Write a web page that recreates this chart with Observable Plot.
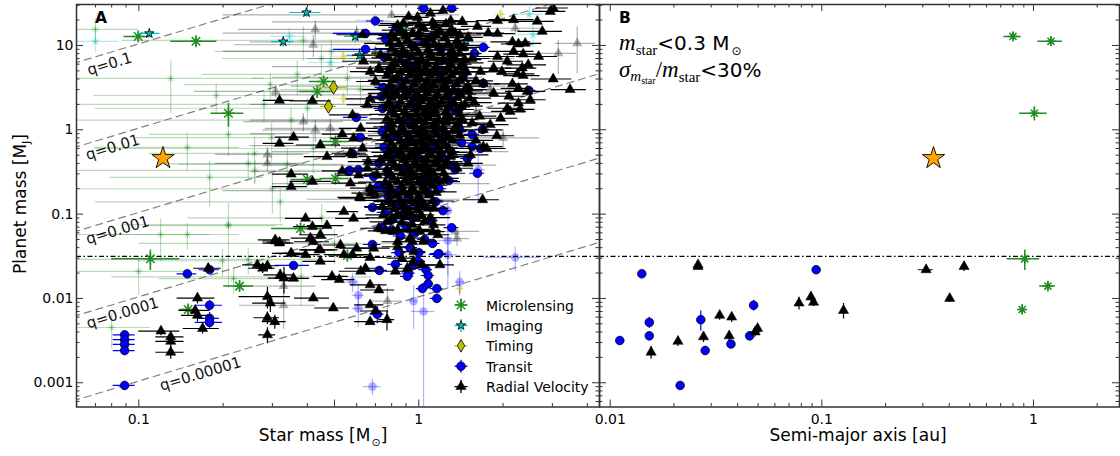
<!DOCTYPE html>
<html><head><meta charset="utf-8">
<script src="https://cdn.jsdelivr.net/npm/d3@7"></script>
<script src="https://cdn.jsdelivr.net/npm/@observablehq/plot@0.6"></script>
<style>
body{margin:0;background:#fff;}
#wrap{position:relative;width:1120px;height:456px;overflow:hidden;background:#fff;}
#wrap > div.panel{position:absolute;top:0;}
</style></head><body><div id="wrap"></div>
<script>
// ---------------- constants / labels ----------------
const MJ_PER_MSUN = 1047.6;
const TEN_EARTH_MJ = 0.0315;
const qValues = [0.1, 0.01, 0.001, 0.0001, 0.00001];
const qLabels = ["q=0.1", "q=0.01", "q=0.001", "q=0.0001", "q=0.00001"];
const qLabelStarMass = [0.0786, 0.0806, 0.084, 0.0875, 0.166];

const yTickValues = [0.001, 0.01, 0.1, 1, 10];
const yTickLabels = ["0.001", "0.01", "0.1", "1", "10"];
const xTickValuesA = [0.1, 0.5, 1];
const xTickLabelsA = ["0.1", "0.5", "1"];
const xMinorA = [0.06, 0.07, 0.08, 0.09, 0.2, 0.3, 0.4, 0.6, 0.7, 0.8, 0.9, 2, 3, 4];
const xTickValuesB = [0.01, 0.1, 1];
const xTickLabelsB = ["0.01", "0.1", "1"];
const xMinorB = [0.02, 0.03, 0.04, 0.05, 0.06, 0.07, 0.08, 0.09, 0.2, 0.3, 0.4, 0.5, 0.6, 0.7, 0.8, 0.9, 2];
const legendNames = ["Microlensing", "Imaging", "Timing", "Transit", "Radial Velocity"];

// ---------------- data: [x, xerr, planet mass MJ, planet-mass err] ----------------
// faded (not selected) samples
const fadedML = [[0.070,0.03,15.5,5],[0.130,0.15,4.06,2.5],[0.189,0.12,2.55,1],[0.209,0.1,0.88,0.4],[0.149,0.08,0.617,0.3],[0.179,0.1,0.272,0.15],[0.295,0.15,3.44,1.2],[0.368,0.2,4.53,2],[0.259,0.15,0.524,0.3],[0.246,0.12,0.398,0.15],[0.339,0.2,0.388,0.2],[0.209,0.1,0.073,0.06],[0.1196,0.06,0.0573,0.03],[0.149,0.08,0.0573,0.02],[0.209,0.12,0.075,0.01],[0.0998,0.05,0.0209,0.01],[0.218,0.1,0.0172,0.006],[0.080,0.03,0.00452,0.002],[0.246,0.2,0.029,0.01],[0.199,0.1,0.028,0.01],[0.298,0.2,0.809,0.4],[0.387,0.3,11.5,5],[0.449,0.25,7.0,3],[0.487,0.3,8.5,3],[0.556,0.3,4.06,1.5],[0.619,0.3,3.0,1],[0.73,0.3,3.1,1],[0.35,0.3,1.3,0.5],[0.42,0.35,0.6,0.3],[0.3,0.25,0.2,0.1],[0.45,0.3,0.09,0.04],[0.5,0.4,0.045,0.02],[0.28,0.22,2.0,0.8],[0.32,0.25,0.14,0.06],[0.4,0.33,1.8,0.6],[0.26,0.2,0.33,0.1],[0.38,0.3,0.018,0.01]];
const fadedIM = [[0.070,0.015,11.2,3],[0.695,0.1,19.8,4],[2.48,0.3,23.4,5],[2.56,0.3,13.5,4],[0.345,0.05,12.8,3],[0.483,0.08,6.28,1.5]];
const fadedTI = [[1.96,0.1,23.4,3],[0.538,0.05,7.4,1],[0.695,0.05,7.8,1],[0.538,0.05,2.35,0.4],[1.4,0.05,0.0131,0.002]];
const fadedTR = [[1.27,0.05,0.11,0.03],[1.27,0.1,0.0487,0.03],[1.27,0.1,0.033,0.02],[2.21,0.5,0.0307,0.01],[1.63,0.1,0.336,0.2],[1.4,0.05,0.0157,0.005],[0.958,0.03,0.0093,0.005],[1.04,0.1,0.007,0.008],[0.683,0.05,0.0009,0.0002],[0.608,0.03,0.0109,0.004],[0.608,0.03,0.0076,0.003],[0.58,0.03,0.0157,0.004]];
const fadedRV = [[0.308,0.15,2.85,0.5],[0.288,0.1,0.51,0.1],[0.288,0.1,0.40,0.08],[0.427,0.2,15.5,4],[0.42,0.2,10.2,3],[0.387,0.15,1.25,0.3],[0.427,0.15,1.0,0.3],[0.483,0.2,1.04,0.3],[3.68,0.6,10.6,6],[3.15,0.5,8.05,3.5],[2.21,0.5,16,3],[0.329,0.1,0.014,0.003],[0.329,0.1,0.0083,0.004],[0.773,0.1,0.0093,0.004],[1.37,0.15,0.0513,0.01],[1.35,0.3,0.0623,0.01],[0.9,0.6,19,2],[1.0,0.7,4.2,1],[0.8,0.5,5.6,1],[1.1,0.8,2.6,0.5],[0.95,0.7,1.3,0.3],[0.85,0.6,0.9,0.2],[1.2,0.9,0.55,0.1],[0.7,0.45,0.32,0.05],[1.05,0.75,0.23,0.05],[0.6,0.4,14,3],[1.3,0.9,7,1],[0.9,0.5,0.15,0.03],[0.75,0.5,2.0,0.4],[1.6,0.6,1.6,0.3],[2.0,0.7,0.8,0.2],[1.8,0.5,3,0.5],[0.8,0.6,23,2],[1.0,0.75,11,2],[0.7,0.5,8.5,1],[1.2,0.85,3.3,0.5],[0.9,0.65,0.65,0.1],[1.1,0.8,0.38,0.05],[0.65,0.45,0.19,0.03]];

// selected samples, panel A (x = star mass)
const mlA = [[0.0995,0.011,12.8,1.5],[0.16,0.03,11.2,1.5],[0.209,0.028,1.57,0.5],[0.11,0.03,0.0295,0.008],[0.229,0.028,0.014,0.002],[0.15,0.01,0.0074,0.001],[0.457,0.05,3.74,0.5],[0.434,0.06,2.85,0.5],[0.875,0.1,13.5,2],[0.846,0.08,4.92,0.8],[0.504,0.06,0.727,0.1],[0.504,0.06,0.264,0.04],[0.40,0.05,0.257,0.04],[0.378,0.08,0.0675,0.01],[0.556,0.08,0.0323,0.005]];
const imA = [[0.109,0.01,13.9,1.5],[0.328,0.03,11.1,1.5],[0.397,0.05,24.6,3],[0.593,0.05,12.8,2],[0.614,0.06,7.63,1.5],[0.881,0.06,16,2],[0.84,0.06,7.8,1.5],[1.47,0.1,11.2,1.5],[0.95,0.08,7.5,1]];
const tiA = [[0.496,0.06,3.18,0.45],[0.476,0.03,1.89,0.3]];
const trLowA = [[0.089,0.008,0.0037,0.0003],[0.089,0.008,0.00324,0.0003],[0.089,0.008,0.00285,0.0003],[0.089,0.008,0.00241,0.0003],[0.089,0.008,0.00093,0.0001],[0.149,0.012,0.0196,0.0015],[0.179,0.015,0.0219,0.002],[0.179,0.02,0.0083,0.0012],[0.179,0.015,0.0058,0.001],[0.179,0.02,0.0052,0.0008]];
const trEdgeA = [[1.04,0.05,27.6],[1.31,0.08,27.6],[0.645,0.15,13.9],[0.645,0.15,9.0],[0.754,0.05,7.2],[0.832,0.05,16.4],[0.747,0.05,3.18],[0.735,0.05,2.48],[0.598,0.06,1.40],[0.742,0.05,1.79],[0.619,0.04,0.81],[0.608,0.05,0.336],[0.56,0.04,0.32],[0.723,0.05,0.219],[0.766,0.05,0.196],[0.683,0.04,0.120],[0.839,0.05,0.131],[0.91,0.05,0.113],[1.69,0.1,1.01],[1.70,0.1,9.5],[1.58,0.1,8.05],[1.62,0.1,0.305],[1.55,0.1,0.88],[1.55,0.1,0.634],[1.66,0.1,0.6],[1.49,0.08,0.457],[1.35,0.08,0.336],[1.31,0.08,0.069],[2.47,0.15,2.93],[1.70,0.1,3.55],[0.717,0.05,0.212],[0.579,0.04,0.524],[0.566,0.05,0.33],[0.683,0.05,0.0436],[0.723,0.05,0.0215],[0.711,0.04,0.0065,0.0015],[0.825,0.05,0.0254],[0.957,0.05,0.0246],[1.08,0.06,0.0187],[1.03,0.05,0.0131],[1.08,0.05,0.0149],[1.16,0.06,0.0131],[1.16,0.06,0.0100],[1.18,0.08,0.034],[0.357,0.05,0.0246],[0.91,0.05,0.0183],[1.17,0.08,0.0333],[0.76,0.05,12.0],[0.7,0.05,19.5],[0.79,0.05,5.2],[0.74,0.05,0.95],[0.75,0.05,0.62],[0.72,0.05,0.4],[0.69,0.05,0.28],[0.78,0.05,0.16],[0.76,0.05,0.105],[0.8,0.05,0.085],[0.74,0.05,0.07]];
const trCoreA = [[0.82,0.05,0.85],[0.9,0.06,0.7],[0.98,0.05,0.5],[1.05,0.06,0.42],[1.12,0.08,0.6],[0.88,0.05,0.35],[0.95,0.05,0.28],[1.02,0.06,0.24],[1.1,0.07,0.3],[0.86,0.05,0.5],[1.0,0.06,0.9],[0.93,0.05,1.2],[1.08,0.07,1.5],[0.97,0.06,2.0],[0.9,0.05,2.6],[1.15,0.08,1.1],[1.2,0.08,0.75],[1.22,0.08,0.45],[1.3,0.1,0.55],[1.25,0.1,1.3],[1.35,0.1,1.7],[1.28,0.1,2.4],[1.4,0.1,1.0],[1.1,0.08,3.2],[1.0,0.06,4.5],[0.92,0.06,6.0],[1.18,0.08,5.0],[1.3,0.1,6.5],[1.2,0.1,9.0],[1.05,0.08,11],[0.85,0.05,0.19],[0.92,0.05,0.15],[1.0,0.06,0.12],[1.08,0.07,0.18],[0.8,0.05,0.065],[0.86,0.05,0.055],[0.9,0.05,0.072],[0.97,0.06,0.06],[1.05,0.06,0.05],[1.1,0.07,0.085],[0.95,0.05,0.09],[0.88,0.05,0.1],[0.78,0.05,0.3],[0.8,0.05,0.55],[0.78,0.05,1.1],[0.8,0.05,1.9],[0.82,0.05,3.0],[0.85,0.05,4.0],[0.88,0.06,8.0],[0.95,0.06,10],[1.12,0.08,13],[1.25,0.1,3.8],[1.38,0.1,2.8],[1.45,0.1,4.6],[1.42,0.1,0.7],[1.33,0.1,0.38],[1.28,0.1,0.25],[1.18,0.08,0.2],[1.15,0.08,0.14],[1.22,0.08,0.11],[1.0,0.06,0.035],[0.93,0.06,0.04],[1.12,0.07,0.045],[0.85,0.05,0.035],[0.99,0.06,0.028],[1.06,0.06,0.022],[0.92,0.05,0.02]];
const rvLowA = [[0.177,0.02,0.0228,0.002],[0.162,0.025,0.0101,0.0015],[0.159,0.02,0.0072,0.001],[0.162,0.02,0.0063,0.001],[0.169,0.025,0.0044,0.0006],[0.12,0.02,0.0041,0.0005],[0.13,0.015,0.0035,0.0005],[0.13,0.015,0.0031,0.0005],[0.13,0.015,0.0023,0.0004],[0.265,0.03,0.025,0.003],[0.288,0.03,0.0244,0.003],[0.277,0.03,0.0228,0.003],[0.307,0.03,0.048,0.005],[0.318,0.03,0.0464,0.005],[0.35,0.04,0.0343,0.004],[0.32,0.04,0.019,0.003],[0.33,0.04,0.0174,0.006],[0.288,0.06,0.0105,0.003],[0.295,0.04,0.0088,0.002],[0.288,0.03,0.0059,0.001],[0.306,0.03,0.0053,0.001],[0.288,0.02,0.0037,0.0008]];
const rvEdgeA = [[0.318,0.04,2.23],[0.318,0.04,0.69],[0.357,0.05,0.817],[0.35,0.05,0.298],[0.35,0.05,0.212],[0.417,0.07,2.2],[0.445,0.08,0.66],[0.47,0.08,0.48],[0.417,0.07,0.244],[0.57,0.08,0.527],[0.57,0.08,0.233],[0.54,0.07,0.107],[0.394,0.06,0.089],[0.417,0.06,0.071],[0.41,0.06,0.052],[0.307,0.04,0.0495],[0.318,0.04,0.0454],[0.35,0.05,0.0343],[0.394,0.05,0.033],[0.533,0.08,0.89],[0.58,0.1,1.5],[0.67,0.1,4.9],[0.635,0.1,6.5],[0.63,0.12,13.4],[0.533,0.08,0.326],[0.614,0.1,0.158],[0.677,0.1,0.177],[0.445,0.07,0.0569],[0.47,0.07,0.073],[0.585,0.08,0.089],[0.445,0.07,0.0377],[0.54,0.08,0.033],[0.747,0.1,0.098],[0.81,0.1,0.062],[0.84,0.1,0.041],[0.93,0.1,0.052],[0.96,0.1,0.036],[0.67,0.1,0.0306],[1.04,0.12,0.0474],[1.13,0.12,0.117],[1.12,0.12,0.062],[1.19,0.15,0.025],[0.74,0.1,0.123],[0.655,0.1,0.35],[0.73,0.1,0.44],[0.71,0.1,0.29],[0.76,0.1,0.0634],[0.69,0.1,0.0394],[0.645,0.1,0.0228],[0.62,0.1,0.021],[0.67,0.1,0.0145],[0.72,0.1,0.0126],[0.67,0.08,0.0084],[0.70,0.08,0.0071],[0.67,0.08,0.0053],[0.77,0.05,0.0056,0.0015],[0.825,0.1,0.021],[0.87,0.1,0.030],[0.91,0.1,0.0228],[0.957,0.1,0.0275],[1.03,0.12,0.0249],[0.84,0.1,0.047],[0.95,0.1,0.047],[1.01,0.12,0.0622],[1.13,0.12,0.0746],[1.17,0.12,0.0569],[0.60,0.08,0.0394],[0.58,0.08,0.033],[0.42,0.06,0.047],[0.445,0.06,0.0275],[0.49,0.07,0.0183],[0.52,0.07,0.0167],[0.42,0.06,0.0101],[0.495,0.07,0.0077],[0.357,0.05,0.0173],[0.44,0.06,0.0377],[0.525,0.07,0.043],[1.69,0.25,0.148],[1.37,0.2,0.35],[1.245,0.15,0.266],[1.7,0.3,0.63],[1.53,0.25,0.505],
[0.99,0.1,21.5],[1.14,0.12,17.3],[1.30,0.15,19.7],[1.43,0.2,19.2],[1.62,0.2,16.8],[1.91,0.3,19.7],[2.18,0.4,20.2],[2.65,0.4,19.3],[3.02,0.4,27.8],[2.95,0.4,25.3],[2.76,0.5,14.7],[1.77,0.25,14.0],[1.91,0.3,13.8],[2.16,0.35,11.0],[2.27,0.3,10.4],[2.40,0.35,10.6],[2.18,0.4,8.5],[2.36,0.35,7.9],[2.46,0.4,5.9],[2.34,0.3,5.4],[2.36,0.35,4.4],[2.27,0.3,3.1],[3.02,0.5,4.0],[3.47,0.5,3.0],[2.12,0.3,1.65],[1.96,0.3,1.37],[2.27,0.35,2.07],[2.44,0.4,2.85],[2.07,0.3,6.5],[1.91,0.3,7.4],[1.66,0.25,4.9],[0.84,0.12,17.3],[0.79,0.15,10.6],[0.73,0.15,7.7],[0.72,0.12,5.4],[0.70,0.1,3.74],[0.67,0.12,2.33],[0.655,0.1,1.98],[0.62,0.1,1.04],[0.585,0.1,0.79],[0.63,0.1,0.605],[0.58,0.08,0.505],[0.66,0.1,0.42],[0.61,0.1,0.29],[0.67,0.1,0.203],[0.62,0.1,0.155],[0.70,0.1,0.169],[0.79,0.1,0.141],[0.72,0.1,0.068],[0.77,0.1,0.081],
[2.68,0.45,7.4],[2.5,0.35,2.27],[2.1,0.3,2.5],[2.3,0.3,1.75],[1.85,0.3,5.4],[1.98,0.3,4.9],[2.25,0.35,4.6],[2.16,0.3,3.5],[1.85,0.3,2.72],[1.70,0.25,3.5],[2.07,0.3,1.8],[1.55,0.25,1.2],[1.7,0.3,1.0],[1.6,0.25,0.75],[1.75,0.3,0.6],[1.5,0.2,0.4],[1.9,0.3,0.85],[1.8,0.3,1.15],[1.65,0.25,1.45],[1.58,0.25,2.1],[1.5,0.2,2.9],[1.6,0.25,3.8],[1.45,0.2,5.5],[1.55,0.25,7.0],[1.45,0.2,9.5],[1.5,0.2,12.5],[1.35,0.2,14],[0.92,0.1,22],[1.1,0.12,24],[1.22,0.15,26]];
const rvCoreA = [[0.86,0.12,15.2],[0.95,0.1,14.1],[1.04,0.12,16.0],[1.19,0.15,14.8],[1.31,0.2,15.5],
[0.82,0.1,12.2],[0.91,0.12,11.6],[1.0,0.1,12.7],[1.1,0.15,11.9],[1.24,0.18,12.4],[1.37,0.2,11.4],
[0.8,0.1,9.2],[0.88,0.1,8.7],[0.97,0.12,9.4],[1.08,0.15,8.9],[1.18,0.15,9.6],[1.31,0.2,8.8],[1.42,0.2,9.3],
[0.78,0.1,7.1],[0.86,0.1,6.8],[0.94,0.12,7.3],[1.02,0.12,6.9],[1.12,0.15,7.2],[1.22,0.15,6.7],[1.35,0.2,7.0],[1.46,0.22,6.8],
[0.8,0.1,5.6],[0.9,0.1,5.3],[0.99,0.12,5.7],[1.06,0.12,5.2],[1.15,0.15,5.6],[1.27,0.18,5.4],[1.4,0.2,5.5],
[0.77,0.1,4.4],[0.84,0.1,4.2],[0.93,0.1,4.5],[1.01,0.12,4.1],[1.1,0.15,4.4],[1.2,0.15,4.2],[1.31,0.18,4.5],[1.44,0.2,4.1],
[0.79,0.1,3.4],[0.88,0.1,3.3],[0.96,0.12,3.5],[1.04,0.12,3.2],[1.13,0.15,3.4],[1.24,0.18,3.3],[1.36,0.2,3.5],[1.5,0.22,3.3],
[0.76,0.1,2.7],[0.83,0.1,2.6],[0.91,0.12,2.8],[0.99,0.12,2.6],[1.07,0.12,2.75],[1.17,0.15,2.6],[1.28,0.18,2.8],[1.41,0.2,2.65],
[0.78,0.1,2.1],[0.86,0.1,2.15],[0.94,0.1,2.05],[1.02,0.12,2.2],[1.1,0.15,2.05],[1.21,0.15,2.15],[1.33,0.2,2.1],[1.46,0.2,2.0],
[0.8,0.1,1.7],[0.89,0.1,1.65],[0.97,0.12,1.75],[1.05,0.12,1.68],[1.14,0.15,1.72],[1.25,0.18,1.66],[1.38,0.2,1.74],
[0.77,0.1,1.35],[0.85,0.1,1.32],[0.93,0.1,1.38],[1.0,0.12,1.34],[1.08,0.12,1.37],[1.18,0.15,1.31],[1.3,0.18,1.36],[1.43,0.2,1.33],
[0.79,0.1,1.08],[0.87,0.1,1.05],[0.95,0.12,1.1],[1.03,0.12,1.06],[1.12,0.15,1.09],[1.22,0.15,1.04],[1.35,0.2,1.08],
[0.76,0.1,0.85],[0.84,0.1,0.87],[0.92,0.1,0.83],[1.0,0.12,0.86],[1.07,0.12,0.84],[1.16,0.15,0.87],[1.27,0.18,0.84],[1.4,0.2,0.86],
[0.8,0.1,0.68],[0.88,0.1,0.66],[0.96,0.12,0.69],[1.04,0.12,0.67],[1.13,0.15,0.7],[1.24,0.18,0.66],
[0.78,0.1,0.54],[0.86,0.1,0.55],[0.94,0.1,0.53],[1.02,0.12,0.56],[1.1,0.15,0.53],[1.2,0.15,0.55],[1.32,0.18,0.54],
[0.8,0.1,0.43],[0.89,0.1,0.44],[0.97,0.12,0.42],[1.06,0.12,0.44],[1.15,0.15,0.43],[1.26,0.18,0.42],
[0.77,0.1,0.34],[0.85,0.1,0.35],[0.93,0.1,0.33],[1.01,0.12,0.345],[1.09,0.12,0.335],[1.19,0.15,0.35],
[0.81,0.1,0.27],[0.9,0.1,0.265],[0.98,0.12,0.275],[1.07,0.12,0.27],[1.16,0.15,0.26],
[0.79,0.1,0.21],[0.87,0.1,0.215],[0.95,0.1,0.205],[1.04,0.12,0.21],[1.12,0.15,0.22],
[0.83,0.1,0.165],[0.92,0.1,0.17],[1.0,0.12,0.16],[1.09,0.12,0.168],
[0.8,0.1,0.13],[0.88,0.1,0.128],[0.97,0.12,0.133],[1.05,0.12,0.127],
[0.84,0.1,0.1],[0.93,0.1,0.104],[1.02,0.12,0.098],
[0.87,0.1,0.08],[0.95,0.1,0.075],[1.05,0.12,0.083]];
const rvCore2A = [[0.88,0.15,18.2],[1.0,0.2,17.6],[1.12,0.2,18.8],[1.25,0.25,17.9],
[0.8,0.15,13.6],[0.9,0.18,13.2],[1.0,0.2,13.9],[1.15,0.22,13.4],[1.28,0.25,13.8],[1.4,0.28,13.3],
[0.85,0.15,10.4],[0.94,0.18,10.1],[1.05,0.2,10.6],[1.14,0.22,10.2],[1.27,0.25,10.5],[1.38,0.28,10.0],
[0.83,0.15,8.1],[0.91,0.18,7.8],[1.0,0.2,8.2],[1.1,0.22,7.9],[1.2,0.24,8.1],[1.3,0.25,7.8],[1.4,0.28,8.0],
[0.82,0.15,6.2],[0.9,0.18,6.0],[0.98,0.2,6.3],[1.07,0.2,6.1],[1.17,0.22,6.3],[1.3,0.25,6.0],[1.43,0.28,6.2],
[0.78,0.15,4.9],[0.86,0.15,4.8],[0.95,0.18,5.0],[1.04,0.2,4.85],[1.13,0.22,4.95],[1.23,0.24,4.8],[1.35,0.25,4.9],[1.48,0.3,4.85],
[0.81,0.15,3.85],[0.9,0.18,3.8],[0.98,0.2,3.9],[1.07,0.2,3.75],[1.17,0.22,3.9],[1.28,0.25,3.8],[1.4,0.28,3.85],
[0.78,0.15,3.0],[0.86,0.15,3.05],[0.94,0.18,2.95],[1.02,0.2,3.02],[1.11,0.22,2.98],[1.21,0.24,3.04],[1.33,0.25,2.96],[1.46,0.3,3.0],
[0.8,0.15,2.4],[0.88,0.15,2.45],[0.96,0.18,2.38],[1.05,0.2,2.42],[1.14,0.22,2.36],[1.25,0.24,2.44],[1.37,0.26,2.4],[1.52,0.3,2.37],
[0.77,0.15,1.9],[0.84,0.15,1.88],[0.92,0.18,1.92],[1.0,0.2,1.9],[1.08,0.2,1.87],[1.17,0.22,1.93],[1.28,0.25,1.89],[1.42,0.28,1.91],
[0.82,0.15,1.52],[0.9,0.18,1.5],[0.98,0.2,1.54],[1.06,0.2,1.51],[1.15,0.22,1.53],[1.26,0.24,1.5],[1.4,0.28,1.52],
[0.8,0.15,1.2],[0.88,0.15,1.22],[0.96,0.18,1.19],[1.05,0.2,1.21],[1.14,0.22,1.18],[1.25,0.24,1.22],[1.38,0.26,1.2],
[0.81,0.15,0.96],[0.89,0.18,0.95],[0.97,0.2,0.97],[1.05,0.2,0.94],[1.14,0.22,0.96],[1.24,0.24,0.95],[1.33,0.25,0.97],
[0.78,0.15,0.76],[0.86,0.15,0.75],[0.94,0.18,0.77],[1.02,0.2,0.76],[1.1,0.2,0.74],[1.2,0.22,0.77],[1.32,0.25,0.75],
[0.82,0.15,0.6],[0.9,0.18,0.61],[0.98,0.2,0.59],[1.07,0.2,0.6],[1.17,0.22,0.61],[1.28,0.25,0.6],
[0.76,0.15,0.48],[0.84,0.15,0.49],[0.92,0.18,0.47],[1.0,0.2,0.48],[1.08,0.2,0.49],[1.18,0.22,0.47],[1.3,0.25,0.48],
[0.82,0.15,0.38],[0.9,0.18,0.39],[0.98,0.2,0.38],[1.06,0.2,0.37],[1.15,0.22,0.39],[1.25,0.24,0.38],
[0.79,0.15,0.3],[0.87,0.15,0.305],[0.95,0.18,0.3],[1.04,0.2,0.295],[1.13,0.22,0.3],[1.23,0.24,0.305],
[0.76,0.15,0.24],[0.84,0.15,0.242],[0.92,0.18,0.238],[1.0,0.2,0.24],[1.09,0.2,0.236],[1.19,0.22,0.243],
[0.8,0.15,0.185],[0.88,0.15,0.188],[0.96,0.18,0.183],[1.05,0.2,0.186],[1.15,0.22,0.184],
[0.78,0.15,0.145],[0.86,0.15,0.147],[0.94,0.18,0.144],[1.02,0.2,0.146],[1.12,0.22,0.143],
[0.82,0.15,0.115],[0.9,0.18,0.116],[0.99,0.2,0.114],[1.08,0.2,0.117],
[0.8,0.15,0.09],[0.89,0.15,0.092],[0.98,0.18,0.089],[1.1,0.2,0.091],
[0.84,0.15,0.065],[0.92,0.18,0.066],[1.0,0.2,0.064]];
const targetA = [[0.122,0,0.46,0]];

// panel B (x = semi-major axis [au])
const mlB = [[0.80,0.075,12.8,1.5],[1.21,0.16,11.2,1.5],[1.01,0.15,1.57,0.3],[0.91,0.16,0.0295,0.008],[1.17,0.1,0.014,0.002],[0.885,0.03,0.0074,0.001]];
const trB = [[0.0111,0,0.00317,0.0003],[0.0141,0,0.0196,0.0015],[0.0153,0,0.0052,0.0008],[0.0153,0,0.0036,0.0004],[0.0214,0,0.00093,0.0001],[0.0268,0,0.0056,0.0015],[0.0281,0,0.00241,0.0003],[0.0372,0,0.00288,0.0003],[0.0476,0,0.0083,0.0012],[0.0456,0,0.0036,0.0003],[0.094,0,0.0219,0.002]];
const rvB = [[0.0156,0.0005,0.0023,0.0004],[0.0209,0.0005,0.0031,0.0004],[0.026,0.0005,0.0239,0.002],[0.026,0.0005,0.025,0.002],[0.0276,0.0005,0.0035,0.0005],[0.0329,0.0005,0.0063,0.0008],[0.0365,0.0005,0.0036,0.0005],[0.0375,0.0005,0.006,0.0008],[0.0484,0.003,0.004,0.0005],[0.0497,0.002,0.0044,0.0005],[0.078,0.001,0.0088,0.0015],[0.0888,0.001,0.0104,0.0012],[0.0914,0.001,0.009,0.001],[0.1266,0.002,0.0072,0.0015],[0.311,0.025,0.0219,0.002],[0.402,0.005,0.0100,0.001],[0.47,0.005,0.0239,0.003]];
const targetB = [[0.337,0,0.46,0]];

// ---------------- styling ----------------
const C = {ml: "#228b22", im: "#00bfbf", ti: "#bfbf00", tr: "#0000ff", rv: "#000000", star: "#ffa500"};
const FONT = '"DejaVu Sans", sans-serif';
const H = 456, MT = 4, MB = 49.5;
const yDomain = [0.000516, 30.6];
const xDomainA = [0.0599, 4.42];
const xDomainB = [0.0089, 2.55];
const WA = 600, MLA = 76, MRA = 1;
const WB = 521, MLB = 0, MRB = 1;
const innerH = H - MT - MB;

const symAst = {draw(ctx, size) {
  const r = Math.sqrt(size / Math.PI), s = r * Math.SQRT1_2;
  ctx.moveTo(-r, 0); ctx.lineTo(r, 0); ctx.moveTo(0, -r); ctx.lineTo(0, r);
  ctx.moveTo(-s, -s); ctx.lineTo(s, s); ctx.moveTo(-s, s); ctx.lineTo(s, -s);
}};
const symDiam = {draw(ctx, size) {
  const r = Math.sqrt(size / Math.PI);
  ctx.moveTo(0, -r * 1.25); ctx.lineTo(r * 0.75, 0); ctx.lineTo(0, r * 1.25); ctx.lineTo(-r * 0.75, 0); ctx.closePath();
}};

const X = d => d[0], DX = d => d[1] || 0, Y = d => d[2], DY = d => d[3] || 0;
function errorbars(data, color, op = 1, sw = 1.2) {
  return [
    Plot.ruleY(data, {y: Y, x1: d => Math.max(X(d) - DX(d), 1e-6), x2: d => X(d) + DX(d), stroke: color, strokeWidth: sw, opacity: op, clip: true}),
    Plot.ruleX(data, {x: X, y1: d => Math.max(Y(d) - DY(d), 1e-8), y2: d => Y(d) + DY(d), stroke: color, strokeWidth: sw, opacity: op, clip: true})
  ];
}
function markers(data, symbol, r, fill, stroke, op = 1, sw = 0.8) {
  return Plot.dot(data, {x: X, y: Y, symbol, r, fill, stroke, strokeWidth: sw, opacity: op, clip: true});
}
const yMinor = [];
for (let k = -4; k <= 1; k++) for (let m = 2; m <= 9; m++) {
  const v = +(m * Math.pow(10, k)).toPrecision(6);
  if (v > yDomain[0] && v < yDomain[1]) yMinor.push(v);
}
function tickMarks(innerW, xMaj, xMin) {
  const st = {stroke: "#333", strokeWidth: 1};
  return [
    Plot.tickY(yTickValues, {...st, insetRight: innerW - 7}),
    Plot.tickY(yMinor, {...st, insetRight: innerW - 3.5}),
    Plot.tickY(yTickValues, {...st, insetLeft: innerW - 7}),
    Plot.tickY(yMinor, {...st, insetLeft: innerW - 3.5}),
    Plot.tickX(xMaj, {...st, insetTop: innerH - 7}),
    Plot.tickX(xMin, {...st, insetTop: innerH - 3.5}),
    Plot.tickX(xMaj, {...st, insetBottom: innerH - 7}),
    Plot.tickX(xMin, {...st, insetBottom: innerH - 3.5})
  ];
}
const dashDot = Plot.ruleY([TEN_EARTH_MJ], {stroke: "#000", strokeWidth: 1.1, strokeDasharray: "5,2.5,1.5,2.5"});
const svgStyle = {fontFamily: FONT, fontSize: "14px", color: "#000", background: "transparent", overflow: "visible"};

// q lines
const qLineData = qValues.flatMap(q => [0.03, 6].map(m => ({q, m, p: q * m * MJ_PER_MSUN})));
const qTextData = qValues.map((q, i) => ({m: qLabelStarMass[i], p: q * qLabelStarMass[i] * MJ_PER_MSUN, t: qLabels[i]}));
const yLab = new Map(yTickValues.map((v, i) => [v, yTickLabels[i]]));
const xLabA = new Map(xTickValuesA.map((v, i) => [v, xTickLabelsA[i]]));
const xLabB = new Map(xTickValuesB.map((v, i) => [v, xTickLabelsB[i]]));

const trA = [...trLowA, ...trCoreA, ...trEdgeA];
const rvA = [...rvLowA, ...rvCoreA, ...rvCore2A, ...rvEdgeA];

const plotA = Plot.plot({
  width: WA, height: H, marginLeft: MLA, marginRight: MRA, marginTop: MT, marginBottom: MB,
  style: svgStyle,
  x: {type: "log", domain: xDomainA, axis: null, label: null},
  y: {type: "log", domain: yDomain, axis: null, label: null},
  marks: [
    Plot.line(qLineData, {x: "m", y: "p", z: "q", stroke: "#808080", strokeWidth: 1.2, strokeDasharray: "7,5", clip: true}),
    ...errorbars(fadedML, C.ml, 0.3, 1.2), markers(fadedML, symAst, 3.8, "none", C.ml, 0.35, 1),
    ...errorbars(fadedIM, C.im, 0.3), markers(fadedIM, "star", 3, C.im, "none", 0.35),
    ...errorbars(fadedTI, C.ti, 0.3), markers(fadedTI, symDiam, 4.5, C.ti, "none", 0.35),
    ...errorbars(fadedTR, C.tr, 0.3), markers(fadedTR, "circle", 4.3, C.tr, "none", 0.3),
    ...errorbars(fadedRV, "#000", 0.3), markers(fadedRV, "triangle", 3.8, "#000", "none", 0.3),
    dashDot,
    ...errorbars(mlA, C.ml, 1, 1.5), markers(mlA, symAst, 6, "none", C.ml, 1, 1.5),
    ...errorbars(imA, C.im, 1), markers(imA, "star", 3, C.im, "#000", 1, 0.8),
    ...errorbars(tiA, C.ti, 1), markers(tiA, symDiam, 5.5, C.ti, "#000", 1, 0.8),
    ...errorbars(trA, C.tr, 1), markers(trA, "circle", 4.3, C.tr, "#000", 1, 0.8),
    ...errorbars(rvA, "#000", 1), markers(rvA, "triangle", 3.8, "#000", "#000", 1, 0.5),
    markers(targetA, "star", 7, C.star, "#000", 1, 0.9),
    Plot.text(qTextData, {x: "m", y: "p", text: "t", rotate: -16.76, dy: 11.5, fontSize: 15, fill: "#111", textAnchor: "middle"}),
    ...tickMarks(WA - MLA - MRA, xTickValuesA, xMinorA),
    Plot.frame({stroke: "#333", strokeWidth: 1.5}),
    Plot.axisY(yTickValues, {anchor: "left", tickSize: 0, tickPadding: 3, tickFormat: d => yLab.get(d), label: null, fontSize: 14}),
    Plot.axisX(xTickValuesA, {anchor: "bottom", tickSize: 0, tickPadding: 7, tickFormat: d => xLabA.get(d), label: null, fontSize: 14})
  ]
});

const plotB = Plot.plot({
  width: WB, height: H, marginLeft: MLB, marginRight: MRB, marginTop: MT, marginBottom: MB,
  style: svgStyle,
  x: {type: "log", domain: xDomainB, axis: null, label: null},
  y: {type: "log", domain: yDomain, axis: null, label: null},
  marks: [
    dashDot,
    ...errorbars(mlB, C.ml, 1, 1.5), markers(mlB, symAst, 5, "none", C.ml, 1, 1.5),
    ...errorbars(trB, C.tr, 1), markers(trB, "circle", 4.3, C.tr, "#000", 1, 0.8),
    ...errorbars(rvB, "#000", 1), markers(rvB, "triangle", 3.8, "#000", "#000", 1, 0.5),
    markers(targetB, "star", 7, C.star, "#000", 1, 0.9),
    ...tickMarks(WB - MLB - MRB, xTickValuesB, xMinorB),
    Plot.frame({stroke: "#333", strokeWidth: 1.5}),
    Plot.axisX(xTickValuesB, {anchor: "bottom", tickSize: 0, tickPadding: 7, tickFormat: d => xLabB.get(d), label: null, fontSize: 14})
  ]
});

const wrap = document.getElementById("wrap");
const dA = document.createElement("div"); dA.className = "panel"; dA.style.left = "0px"; dA.appendChild(plotA);
const dB = document.createElement("div"); dB.className = "panel"; dB.style.left = "599px"; dB.appendChild(plotB);
wrap.appendChild(dA); wrap.appendChild(dB);

// ---------------- overlay: titles, annotation, legend ----------------
const ov = d3.select(wrap).append("svg").attr("width", 1120).attr("height", 456)
  .style("position", "absolute").style("left", 0).style("top", 0).style("pointer-events", "none")
  .style("font-family", FONT);

ov.append("text").attr("x", 95).attr("y", 23).attr("font-weight", "bold").attr("font-size", 15.5).text("A");
ov.append("text").attr("x", 619).attr("y", 23).attr("font-weight", "bold").attr("font-size", 15.5).text("B");

// axis titles
const yt = ov.append("text").attr("transform", "translate(26,204) rotate(-90)").attr("text-anchor", "middle").attr("font-size", 17);
yt.append("tspan").text("Planet mass [M");
yt.append("tspan").attr("font-size", 11).attr("dy", 4).text("J");
yt.append("tspan").attr("dy", -4).text("]");
const xt = ov.append("text").attr("x", 323).attr("y", 441).attr("text-anchor", "middle").attr("font-size", 17);
xt.append("tspan").text("Star mass [M");
xt.append("tspan").attr("font-size", 11).attr("dy", 5).attr("dx", 1).text("⊙");
xt.append("tspan").attr("dy", -5).text("]");
ov.append("text").attr("x", 858).attr("y", 441).attr("text-anchor", "middle").attr("font-size", 17).text("Semi-major axis [au]");

// annotation in panel B
const SERIF = '"Liberation Serif", "DejaVu Serif", serif';
const a1 = ov.append("text").attr("x", 619).attr("y", 50).attr("font-size", 20);
a1.append("tspan").attr("font-family", SERIF).attr("font-style", "italic").attr("font-size", 23).text("m");
a1.append("tspan").attr("font-family", SERIF).attr("font-size", 15).attr("dy", 5).text("star");
a1.append("tspan").attr("dy", -5).text("<0.3 M");
a1.append("tspan").attr("font-size", 12).attr("dy", 5).attr("dx", 2).text("⊙");
const a2 = ov.append("text").attr("x", 619).attr("y", 77).attr("font-size", 20);
a2.append("tspan").attr("font-family", SERIF).attr("font-style", "italic").attr("font-size", 23).text("σ");
a2.append("tspan").attr("font-family", SERIF).attr("font-style", "italic").attr("font-size", 15).attr("dy", 4).text("m");
a2.append("tspan").attr("font-family", SERIF).attr("font-size", 10).attr("dy", 3).text("star");
a2.append("tspan").attr("font-family", SERIF).attr("font-size", 23).attr("dy", -7).text("/");
a2.append("tspan").attr("font-family", SERIF).attr("font-style", "italic").attr("font-size", 23).text("m");
a2.append("tspan").attr("font-family", SERIF).attr("font-size", 15).attr("dy", 5).text("star");
a2.append("tspan").attr("dy", -5).text("<30%");

// legend
const legendStyles = [
  {sym: symAst, r: 6, fill: "none", stroke: C.ml, sw: 1.4, bar: C.ml},
  {sym: d3.symbolStar, r: 3, fill: C.im, stroke: "#000", sw: 0.8, bar: C.im},
  {sym: symDiam, r: 5, fill: C.ti, stroke: "#000", sw: 0.8, bar: C.ti},
  {sym: d3.symbolCircle, r: 4.3, fill: C.tr, stroke: "#000", sw: 0.8, bar: C.tr},
  {sym: d3.symbolTriangle, r: 3.8, fill: "#000", stroke: "#000", sw: 0.5, bar: "#000"}
];
const lg = ov.append("g");
legendNames.forEach((name, i) => {
  const s = legendStyles[i];
  const g = lg.append("g").attr("transform", `translate(461,${305 + i * 20.4})`);
  g.append("line").attr("x1", -6.5).attr("x2", 6.5).attr("stroke", s.bar).attr("stroke-width", 1.3);
  g.append("line").attr("y1", -6.5).attr("y2", 6.5).attr("stroke", s.bar).attr("stroke-width", 1.3);
  g.append("path").attr("d", d3.symbol(s.sym, Math.PI * s.r * s.r)()).attr("fill", s.fill).attr("stroke", s.stroke).attr("stroke-width", s.sw);
  g.append("text").attr("x", 25).attr("y", 5.5).attr("font-size", 14).text(name);
});
</script></body></html>
